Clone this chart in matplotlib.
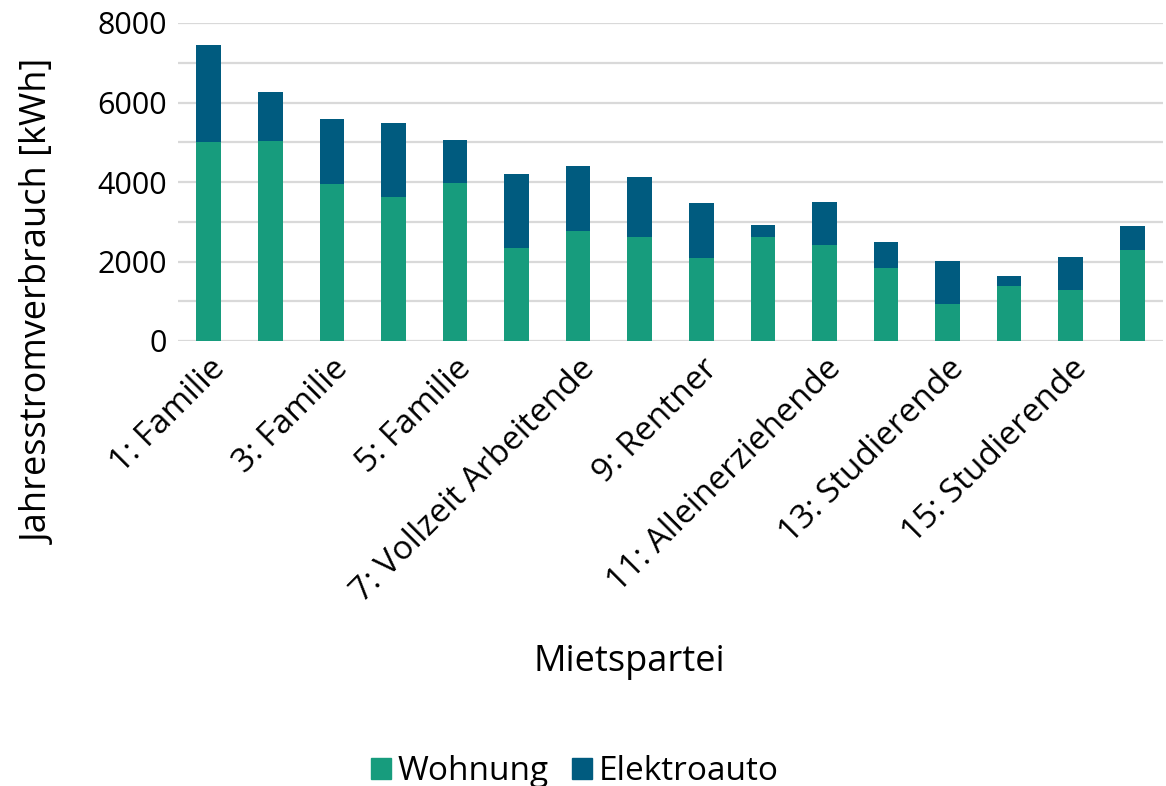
import matplotlib
matplotlib.use("Agg")
import matplotlib.pyplot as plt
from matplotlib.patches import Patch

categories = ["1: Familie", "2: Familie", "3: Familie", "4: Familie", "5: Familie",
              "6: Vollzeit Arbeitende", "7: Vollzeit Arbeitende", "8: Vollzeit Arbeitende",
              "9: Rentner", "10: Rentner", "11: Alleinerziehende", "12: Alleinerziehende",
              "13: Studierende", "14: Studierende", "15: Studierende", "16: Studierende"]
wohnung = [5000, 5020, 3960, 3630, 3985, 2345, 2775, 2620, 2090, 2620, 2420, 1840, 935, 1385, 1285, 2295]
elektroauto = [2435, 1255, 1635, 1865, 1080, 1865, 1635, 1515, 1390, 305, 1085, 655, 1080, 255, 830, 605]

GREEN = "#179c7d"
BLUE = "#005b7f"

plt.rcParams['font.family'] = ['Open Sans', 'DejaVu Sans']

fig = plt.figure(figsize=(11.66, 7.86), dpi=100)
ax = fig.add_axes([178/1166, 1-341/786, (1163-178)/1166, (341-23)/786])

x = list(range(len(categories)))
ax.bar(x, wohnung, width=0.4, color=GREEN, zorder=3)
ax.bar(x, elektroauto, width=0.4, bottom=wohnung, color=BLUE, zorder=3)

ax.set_xlim(-0.5, len(categories) - 0.5)
ax.set_ylim(0, 8000)
ax.set_yticks(range(0, 8001, 2000))
ax.set_yticks(range(0, 8001, 1000), minor=True)
ax.grid(axis='y', which='both', color='#d9d9d9', linewidth=1.6, zorder=0)
ax.tick_params(axis='y', which='both', length=0, pad=8, labelsize=22)
for s in ax.spines.values():
    s.set_visible(False)

ax.set_xticks(x[::2])
ax.set_xticklabels(categories[::2], rotation=45, ha='right', rotation_mode='anchor', fontsize=24)
ax.tick_params(axis='x', length=0, pad=8)

fig.text(629/1166, 1-662/786, "Mietspartei", ha='center', va='center', fontsize=26)
fig.text(40/1166, 1-302/786, "Jahresstromverbrauch [kWh]", ha='center', va='center',
         rotation=90, fontsize=26)

handles = [Patch(color=GREEN, label="Wohnung"), Patch(color=BLUE, label="Elektroauto")]
fig.legend(handles=handles, loc='center', bbox_to_anchor=(575/1166, 1-772/786), ncol=2,
           frameon=False, fontsize=24, handlelength=0.6, handleheight=0.6,
           handletextpad=0.2, columnspacing=0.7, borderpad=0)

fig.savefig("out.png", dpi=100)
